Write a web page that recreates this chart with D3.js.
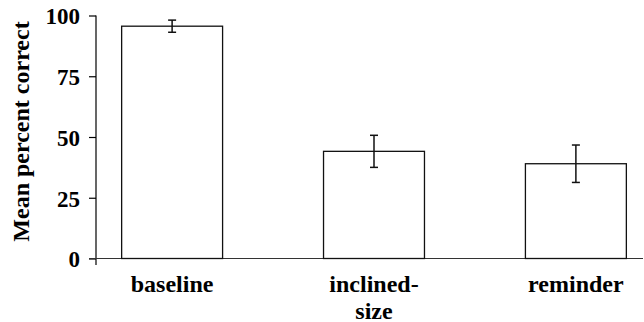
<!DOCTYPE html>
<html>
<head>
<meta charset="utf-8">
<script src="https://cdn.jsdelivr.net/npm/d3@7"></script>
<style>
  body { margin: 0; background: #fff; }
  text { font-family: "Liberation Serif", "Times New Roman", serif; font-weight: bold; fill: #000; }
</style>
</head>
<body>
<svg id="chart"></svg>
<script>
// Data
const conditions = ["baseline", "inclined-size", "reminder"];
const labelLines = [["baseline"], ["inclined-", "size"], ["reminder"]];
const meanCorrect = [95.6, 44.1, 39.0];
const errorSize = [2.5, 6.6, 7.7];
const yTicks = [0, 25, 50, 75, 100];

const width = 644;
const height = 322;

const svg = d3.select("#chart")
    .attr("width", width)
    .attr("height", height);

// Scales
const x = d3.scaleBand()
    .domain(conditions)
    .range([96, 652])
    .paddingInner(0.5)
    .paddingOuter(0.127);

const y = d3.scaleLinear()
    .domain([0, 100])
    .range([258.5, 15.5]);

// Y axis
const yAxis = svg.append("g")
    .attr("transform", "translate(96,0)")
    .call(d3.axisLeft(y).tickValues(yTicks).tickSize(7).tickPadding(9).tickSizeOuter(0));

yAxis.select(".domain").remove();
yAxis.selectAll(".tick line").attr("stroke", "#000").attr("stroke-width", 1.2);
yAxis.selectAll(".tick text")
    .attr("font-family", null)
    .style("font-size", "23px")
    .attr("dy", "0.36em");

// vertical axis line, extends a little below zero
svg.append("line")
    .attr("x1", 96).attr("x2", 96)
    .attr("y1", y(100)).attr("y2", y(0) + 6.5)
    .attr("stroke", "#000").attr("stroke-width", 1.2);

// horizontal axis line
svg.append("line")
    .attr("x1", 89).attr("x2", 643)
    .attr("y1", y(0)).attr("y2", y(0))
    .attr("stroke", "#333").attr("stroke-width", 1.2);

// Bars
svg.selectAll(".bar")
    .data(conditions)
    .enter()
    .append("rect")
    .attr("class", "bar")
    .attr("x", d => x(d))
    .attr("y", (d, i) => y(meanCorrect[i]))
    .attr("width", x.bandwidth())
    .attr("height", (d, i) => y(0) - y(meanCorrect[i]))
    .attr("fill", "#fff")
    .attr("stroke", "#111")
    .attr("stroke-width", 1.3);

// Error bars
const err = svg.selectAll(".err")
    .data(conditions)
    .enter()
    .append("g")
    .attr("class", "err")
    .attr("stroke", "#111")
    .attr("stroke-width", 1.5);

const cx = d => x(d) + x.bandwidth() / 2;

err.append("line")
    .attr("x1", cx).attr("x2", cx)
    .attr("y1", (d, i) => y(meanCorrect[i] + errorSize[i]))
    .attr("y2", (d, i) => y(meanCorrect[i] - errorSize[i]));

err.append("line")
    .attr("x1", d => cx(d) - 4).attr("x2", d => cx(d) + 4)
    .attr("y1", (d, i) => y(meanCorrect[i] + errorSize[i]))
    .attr("y2", (d, i) => y(meanCorrect[i] + errorSize[i]));

err.append("line")
    .attr("x1", d => cx(d) - 4).attr("x2", d => cx(d) + 4)
    .attr("y1", (d, i) => y(meanCorrect[i] - errorSize[i]))
    .attr("y2", (d, i) => y(meanCorrect[i] - errorSize[i]));

// X labels
const xLabels = svg.selectAll(".xlabel")
    .data(conditions)
    .enter()
    .append("text")
    .attr("class", "xlabel")
    .attr("text-anchor", "middle")
    .style("font-size", "24px")
    .attr("transform", d => `translate(${cx(d)}, ${y(0) + 33})`);

xLabels.selectAll("tspan")
    .data((d, i) => labelLines[i])
    .enter()
    .append("tspan")
    .attr("x", 0)
    .attr("dy", (d, i) => i === 0 ? 0 : 27)
    .text(d => d);

// Y title
svg.append("text")
    .attr("text-anchor", "middle")
    .style("font-size", "24px")
    .attr("transform", "translate(29, 131.5) rotate(-90)")
    .text("Mean percent correct");
</script>
</body>
</html>
